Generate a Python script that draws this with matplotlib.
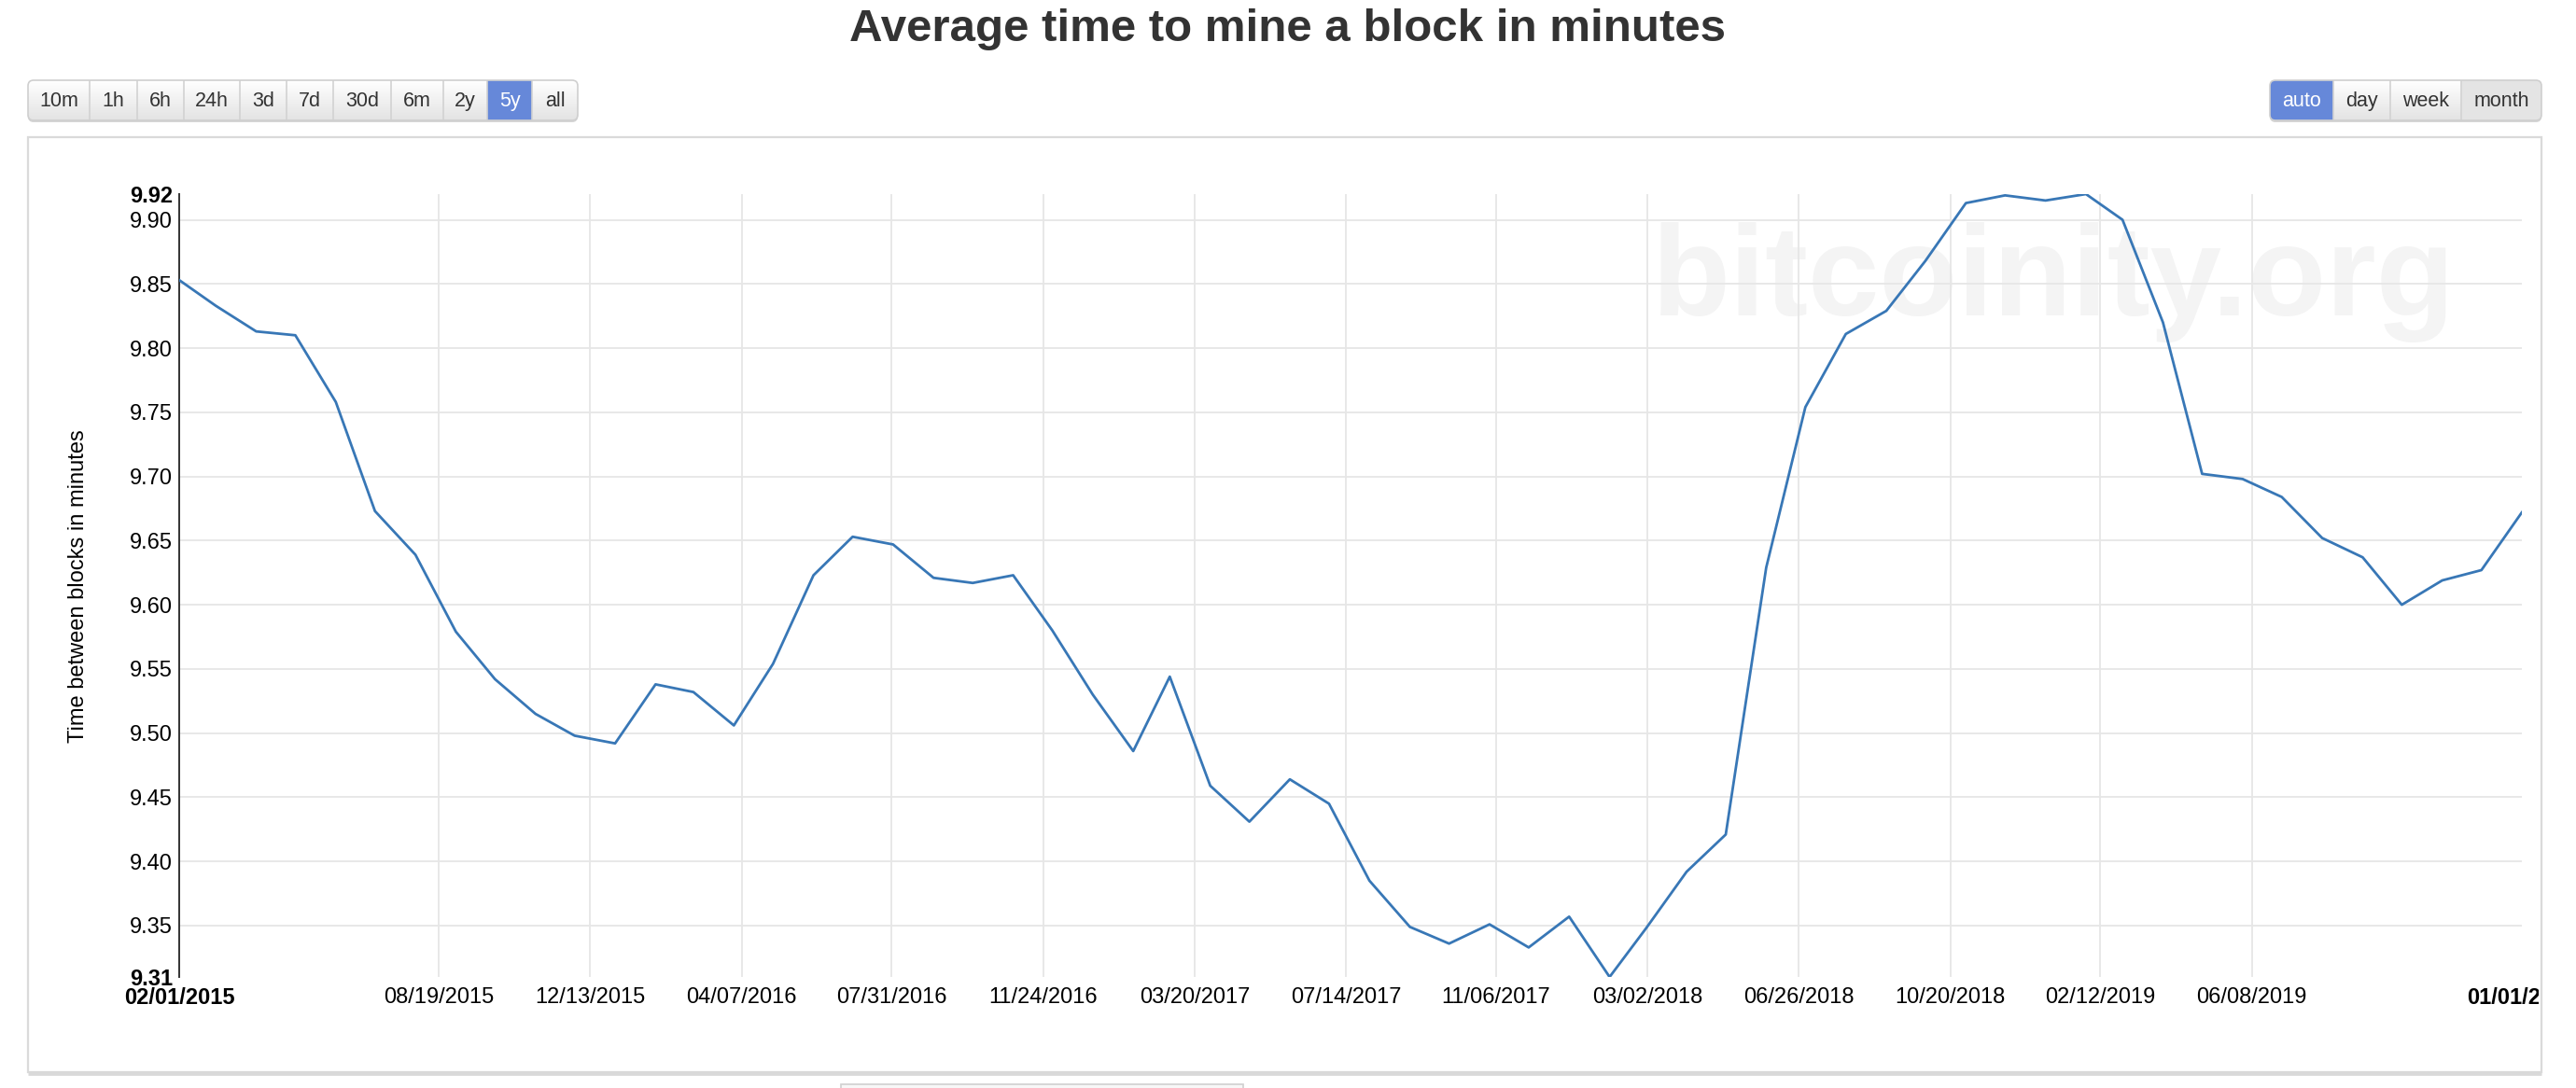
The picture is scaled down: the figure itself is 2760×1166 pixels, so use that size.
import matplotlib
matplotlib.use("Agg")
import matplotlib.pyplot as plt
from matplotlib.patches import FancyBboxPatch, Rectangle
from matplotlib.colors import LinearSegmentedColormap
from matplotlib.transforms import Bbox, TransformedBbox
import numpy as np
import pandas as pd

plt.rcParams['font.family'] = ['Liberation Sans', 'DejaVu Sans']

# monthly averages, Feb 2015 .. Jan 2020
months = pd.date_range('2015-02-01', '2020-01-01', freq='MS')
minutes = [9.853, 9.833, 9.813, 9.810, 9.758, 9.673, 9.639, 9.579, 9.542, 9.515, 9.498, 9.492,
           9.538, 9.532, 9.506, 9.554, 9.623, 9.653, 9.647, 9.621, 9.617, 9.623, 9.580, 9.530,
           9.486, 9.544, 9.459, 9.431, 9.464, 9.445, 9.385, 9.349, 9.336, 9.351, 9.333, 9.357,
           9.310, 9.348, 9.392, 9.421, 9.629, 9.754, 9.811, 9.829, 9.868, 9.913, 9.919, 9.915,
           9.920, 9.900, 9.820, 9.702, 9.698, 9.684, 9.652, 9.637, 9.600, 9.619, 9.627, 9.672]

y_ticks = [9.31, 9.35, 9.40, 9.45, 9.50, 9.55, 9.60, 9.65, 9.70, 9.75, 9.80, 9.85, 9.90, 9.92]
x_ticks = ['02/01/2015', '08/19/2015', '12/13/2015', '04/07/2016', '07/31/2016', '11/24/2016',
           '03/20/2017', '07/14/2017', '11/06/2017', '03/02/2018', '06/26/2018', '10/20/2018',
           '02/12/2019', '06/08/2019', '01/01/2020']

range_buttons = ['10m', '1h', '6h', '24h', '3d', '7d', '30d', '6m', '2y', '5y', 'all']
group_buttons = ['auto', 'day', 'week', 'month']

W, H = 2760, 1166
fig = plt.figure(figsize=(W / 100, H / 100), dpi=100)
fig.patch.set_facecolor('white')

# page decorations drawn in pixel coordinates
ui = fig.add_axes([0, 0, 1, 1], zorder=0)
ui.set_axis_off()

grad_cmap = LinearSegmentedColormap.from_list('btn', ['#ffffff', '#e3e3e3'])
grad = np.linspace(0, 1, 60).reshape(-1, 1)


def button_group(edges, labels, active, pressed=None):
    x0, x1 = edges[0], edges[-1]
    y0, y1 = 86, 129
    shadow = FancyBboxPatch((x0, y0 + 2), x1 - x0, y1 - y0, boxstyle='round,pad=0,rounding_size=6',
                            fc='#d6d6d6', ec='none')
    ui.add_patch(shadow)
    box = FancyBboxPatch((x0, y0), x1 - x0, y1 - y0, boxstyle='round,pad=0,rounding_size=6',
                         fc='none', ec='#cfcfcf', lw=1.2, zorder=3)
    ui.add_patch(box)
    im = ui.imshow(grad, extent=[x0, x1, y1, y0], cmap=grad_cmap, aspect='auto', zorder=1)
    im.set_clip_path(box)
    for i, lab in enumerate(labels):
        a, b = edges[i], edges[i + 1]
        color = '#333333'
        if lab == active:
            r = Rectangle((a, y0), b - a, y1 - y0, fc='#6688d9', ec='none', zorder=2)
            ui.add_patch(r)
            r.set_clip_path(box)
            color = 'white'
        elif lab == pressed:
            r = Rectangle((a, y0), b - a, y1 - y0, fc='#e4e4e4', ec='none', zorder=2)
            ui.add_patch(r)
            r.set_clip_path(box)
        if i > 0:
            ui.plot([a, a], [y0 + 1, y1 - 1], color='#d2d2d2', lw=1.2, zorder=2.5)
        ui.text((a + b) / 2, (y0 + y1) / 2 + 1, lab, ha='center', va='center', fontsize=15.5,
                color=color, zorder=4)


button_group([30, 96, 147, 197, 257, 307, 357, 419, 475, 522, 570, 619], range_buttons, '5y')
button_group([2432, 2500, 2561, 2637, 2723], group_buttons, 'auto', pressed='month')

# chart frame
ui.add_patch(Rectangle((30, 147), 2693, 1002, fc='none', ec='#dadada', lw=1.6))
ui.plot([30, 2723], [1150, 1150], color='#d9d9d9', lw=3.5, solid_capstyle='butt')
ui.add_patch(Rectangle((901, 1162), 431, 12, fc='#f7f7f7', ec='#d0d0d0', lw=1.2))
ui.set_xlim(0, W)
ui.set_ylim(H, 0)

fig.text(1380 / W, 1 - 44 / H, 'Average time to mine a block in minutes', ha='center',
         va='baseline', fontsize=35.5, fontweight='bold', color='#333333')

# main plot
ax = fig.add_axes([192 / W, 1 - 1047 / H, (2702 - 192) / W, (1047 - 208) / H], zorder=1)
ax.set_axisbelow(True)
ax.plot(months, minutes, color='#3877b6', lw=2.0, zorder=3)

ax.set_ylim(9.31, 9.92)
ax.set_yticks(y_ticks)
ax.set_yticklabels(['%.2f' % v for v in y_ticks])
tick_dates = pd.to_datetime(x_ticks, format='%m/%d/%Y')
ax.set_xlim(tick_dates[0], tick_dates[-1])
ax.set_xticks(tick_dates)
ax.set_xticklabels(x_ticks)

ax.tick_params(axis='both', length=0, labelsize=17, labelcolor='black')
ax.tick_params(axis='x', pad=8)
ax.tick_params(axis='y', pad=5)
ax.grid(True, color='#e6e6e6', lw=1.3)
for gl in [ax.yaxis.get_gridlines()[0], ax.yaxis.get_gridlines()[-1],
           ax.xaxis.get_gridlines()[0], ax.xaxis.get_gridlines()[-1]]:
    gl.set_visible(False)

for lab in [ax.get_yticklabels()[0], ax.get_yticklabels()[-1],
            ax.get_xticklabels()[0], ax.get_xticklabels()[-1]]:
    lab.set_fontweight('bold')

last = ax.get_xticklabels()[-1]
last.set_clip_box(TransformedBbox(Bbox([[0, 0], [2720 / W, 1]]), fig.transFigure))
last.set_clip_on(True)

for s in ['top', 'right', 'bottom']:
    ax.spines[s].set_visible(False)
ax.spines['left'].set_color('#333333')
ax.spines['left'].set_linewidth(1.4)

ax.set_ylabel('Time between blocks in minutes', fontsize=17)
ax.yaxis.set_label_coords(95 / W, 1 - 628 / H, transform=fig.transFigure)

# watermark
ax.text(1770 / W, 1 - 338 / H, 'bitcoinity.org', transform=fig.transFigure, fontsize=99,
        fontweight='bold', color='#f4f4f4', ha='left', va='baseline', zorder=0)

fig.savefig('out.png', dpi=100)
